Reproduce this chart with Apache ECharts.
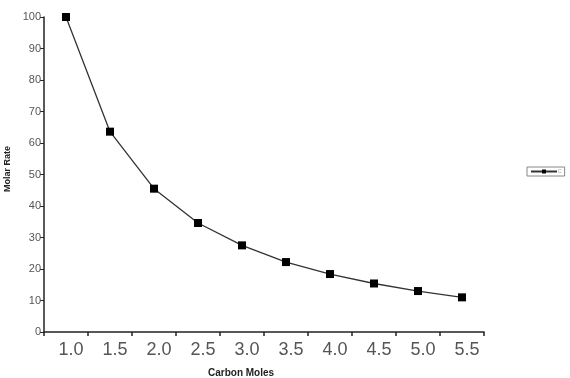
<!DOCTYPE html>
<html>
<head>
<meta charset="utf-8">
<script src="https://cdn.jsdelivr.net/npm/echarts@6/dist/echarts.min.js"></script>
<style>html,body{margin:0;padding:0;background:#fff}#c{width:570px;height:378px}</style>
</head>
<body>
<div id="c"></div>
<script>
var categories = ['1.0','1.5','2.0','2.5','3.0','3.5','4.0','4.5','5.0','5.5'];
var molarRate = [100, 63.6, 45.5, 34.6, 27.5, 22.2, 18.4, 15.4, 13.0, 11.0];
var seriesName = 'C';
var xTitle = 'Carbon Moles';
var yTitle = 'Molar Rate';

var chart = echarts.init(document.getElementById('c'), null, {renderer: 'canvas'});
chart.setOption({
  animation: false,
  backgroundColor: '#fff',
  grid: {left: 44, right: 86, top: 17, bottom: 46, containLabel: false},
  xAxis: {
    type: 'category',
    data: categories,
    boundaryGap: true,
    axisLine: {lineStyle: {color: '#222', width: 1.5}},
    axisTick: {show: true, length: 4, inside: false, lineStyle: {color: '#222', width: 1.5}},
    axisLabel: {color: '#555', fontSize: 18, fontFamily: 'Liberation Sans, Arial, sans-serif', margin: 9, padding: [0,0,0,10]},
    splitLine: {show: false}
  },
  yAxis: {
    type: 'value',
    min: 0, max: 100, interval: 10,
    axisLine: {show: true, lineStyle: {color: '#222', width: 1.5}},
    axisTick: {show: true, length: 4, lineStyle: {color: '#222', width: 1}},
    axisLabel: {color: '#555', fontSize: 11, fontFamily: 'Liberation Sans, Arial, sans-serif', margin: 3},
    splitLine: {show: false}
  },
  legend: {
    show: true,
    left: 527, top: 167,
    orient: 'horizontal',
    data: [seriesName],
    itemWidth: 26, itemHeight: 5,
    itemGap: 2,
    padding: [2, 3, 2, 3],
    borderColor: '#888', borderWidth: 1,
    textStyle: {fontSize: 5, color: '#999', padding: [0,0,0,-4]}
  },
  graphic: [
    {type: 'text', left: 208, top: 368, style: {text: xTitle, font: 'bold 10px Liberation Sans, Arial, sans-serif', fill: '#222'}},
    {type: 'text', x: 3, y: 192, rotation: Math.PI/2, style: {text: yTitle, font: 'bold 9px Liberation Sans, Arial, sans-serif', fill: '#222'}}
  ],
  series: [{
    name: seriesName,
    type: 'line',
    data: molarRate,
    symbol: 'rect',
    symbolSize: 8,
    itemStyle: {color: '#000'},
    lineStyle: {color: '#333', width: 1.3},
    smooth: false
  }]
});
</script>
</body>
</html>
